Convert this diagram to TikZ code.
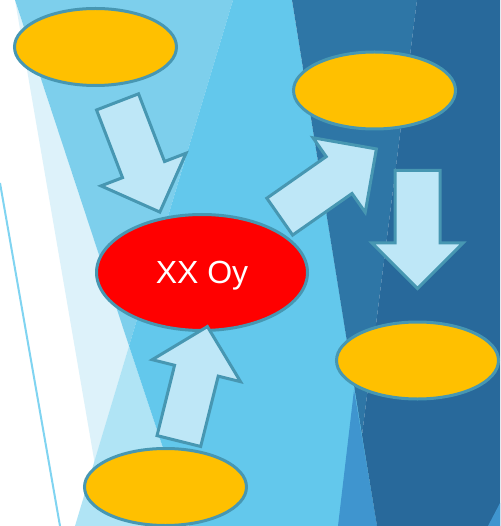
\documentclass[tikz,border=0pt]{standalone}
\usepackage{fontspec}
\newfontfamily\labelfont{Liberation Sans}
\usepackage{tikz}
\usetikzlibrary{shapes.geometric, shapes.arrows}
\definecolor{verylight}{HTML}{DDF2FA}
\definecolor{medlight}{HTML}{7DCFEC}
\definecolor{palefill}{HTML}{B0E4F5}
\definecolor{brightblue}{HTML}{63C8EC}
\definecolor{midblue}{HTML}{3F95CF}
\definecolor{darkA}{HTML}{2E76A6}
\definecolor{darkB}{HTML}{28699B}
\definecolor{stripe}{HTML}{80D4F1}
\definecolor{edgeteal}{HTML}{4797B2}
\definecolor{goldfill}{HTML}{FFC000}
\definecolor{flowfill}{HTML}{BEE7F7}
\tikzstyle{goal} = [ellipse, minimum width=162pt, minimum height=77pt, inner sep=0pt, draw=edgeteal, line width=3pt, fill=goldfill]
\tikzstyle{core} = [ellipse, minimum width=211pt, minimum height=116pt, inner sep=0pt, draw=edgeteal, line width=3pt, fill=red, text=white, text depth=0pt, font=\labelfont\fontsize{32}{38}\selectfont]
\tikzstyle{flow} = [single arrow, single arrow head extend=23pt, inner xsep=0pt, inner ysep=21pt, minimum height=118pt, draw=edgeteal, line width=3pt, fill=flowfill, anchor=tail]

\begin{document}
\begin{tikzpicture}[x=1pt, y=-1pt]
\useasboundingbox (0,0) rectangle (500,526);

\fill[white] (0,0) rectangle (500,526);
\draw[stripe, line width=2pt] (0,183) -- (60,526);
\fill[verylight] (15,0) -- (129,346) -- (94.5,462) -- cycle;
\fill[medlight] (15,0) -- (233,0) -- (129,346) -- cycle;
\fill[palefill] (129,346) -- (75,526) -- (189,526) -- cycle;
\fill[brightblue] (233,0) -- (292,0) -- (377,526) -- (189,526) -- (129,346) -- cycle;
\fill[midblue] (354,390) -- (338,526) -- (377,526) -- cycle;
\fill[darkA] (292,0) -- (417,0) -- (362,435) -- cycle;
\fill[darkB] (417,0) -- (500,0) -- (500,526) -- (377,526) -- (362,435) -- cycle;
\fill[midblue] (488,526) -- (500,503) -- (500,526) -- cycle;

\node (topleft) [goal] at (95.5,47) {};
\node (topright) [goal] at (374.5,90.5) {};
\node (rightmid) [goal] at (417.5,360.5) {};
\node (bottom) [goal] at (165.5,487) {};
\node (centre) [core] at (202,272.5) {XX Oy};

\node (flowA) [flow, rotate=-69] at (117,100.5) {};
\node (flowB) [flow, rotate=35] at (278.5,217.5) {};
\node (flowC) [flow, rotate=-90] at (417.5,169) {};
\node (flowD) [flow, rotate=76] at (178.5,442.5) {};

\end{tikzpicture}
\end{document}
